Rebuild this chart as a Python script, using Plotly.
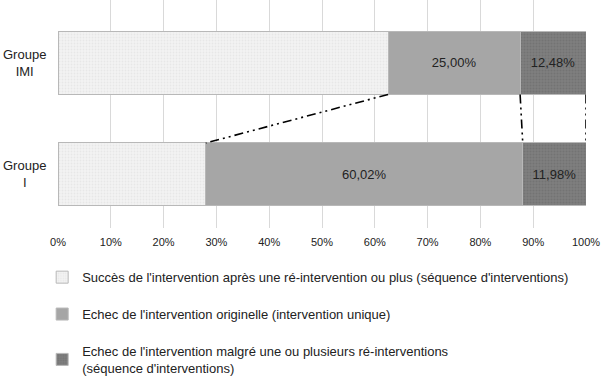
import plotly.graph_objects as go

categories = ["Groupe I", "Groupe IMI"]
category_labels = ["Groupe<br>I", "Groupe<br>IMI"]
series_names = [
    "Succès de l'intervention après une ré-intervention ou plus (séquence d'interventions)",
    "Echec de l'intervention originelle (intervention unique)",
    "Echec de l'intervention malgré une ou plusieurs ré-interventions<br>(séquence d'interventions)",
]
succes = [28.00, 62.52]
echec_orig = [60.02, 25.00]
echec_seq = [11.98, 12.48]
x_ticks = [0, 10, 20, 30, 40, 50, 60, 70, 80, 90, 100]

series = [succes, echec_orig, echec_seq]
colors = ["#f3f3f3", "#a6a6a6", "#7c7c7c"]
patterns = [
    dict(shape=".", fgcolor="#dcdcdc", bgcolor="#f3f3f3", size=3, solidity=0.3),
    dict(shape=""),
    dict(shape=".", fgcolor="#666666", bgcolor="#808080", size=3, solidity=0.4),
]
show_text = [False, True, True]

def fmt(v):
    return f"{v:.2f}".replace(".", ",") + "%"

bar_width = 0.565
fig = go.Figure()
for i, (name, vals) in enumerate(zip(series_names, series)):
    fig.add_trace(go.Bar(
        y=categories, x=vals, name=name, orientation="h",
        width=bar_width,
        marker=dict(color=colors[i], pattern=patterns[i],
                    line=dict(color="#b8b8b8", width=1)),
        text=[fmt(v) for v in vals] if show_text[i] else None,
        textposition="inside", insidetextanchor="middle",
        textfont=dict(size=13, color="#222222"),
        legendgroup=f"g{i}",
        hoverinfo="x+name",
    ))

# connector lines between stacked segments (series lines)
cum = [0.0, 0.0]
for vals in series:
    cum = [cum[0] + vals[0], cum[1] + vals[1]]
    fig.add_shape(type="line", xref="x", yref="y",
                  x0=cum[1], y0=1 - bar_width / 2,
                  x1=cum[0], y1=0 + bar_width / 2,
                  line=dict(color="black", width=1.6, dash="9px,4px,2px,4px,2px,4px"))

for cat, lab in zip(categories, category_labels):
    fig.add_annotation(xref="paper", yref="y", x=0, y=cat, text=lab,
                       showarrow=False, xanchor="right", xshift=-10, align="center",
                       font=dict(size=13, color="#222222"))

fig.update_layout(
    barmode="stack",
    width=604, height=380,
    margin=dict(l=58, r=18, t=0, b=152, autoexpand=False),
    paper_bgcolor="white", plot_bgcolor="white",
    font=dict(family="Liberation Sans, Arial, sans-serif", color="#222222"),
    showlegend=True,
    legend=dict(x=-0.03, y=-0.15, xanchor="left", yanchor="top",
                orientation="v", tracegroupgap=17, traceorder="grouped",
                font=dict(size=13, color="#222222"),
                itemwidth=30),
    xaxis=dict(range=[0, 100], tickvals=x_ticks,
               ticktext=[f"{t}%" for t in x_ticks],
               showgrid=True, gridcolor="#d9d9d9", gridwidth=1,
               zeroline=False, showline=False, ticks="",
               ticklabelstandoff=6,
               tickfont=dict(size=11, color="#222222")),
    yaxis=dict(type="category", categoryorder="array", categoryarray=categories,
               range=[-0.48, 1.565], showticklabels=False,
               showgrid=False, zeroline=False, showline=False),
)

fig.write_html("out.html", config={"displayModeBar": False},
               post_script="document.body.style.margin='0';window.dispatchEvent(new Event('resize'));")
